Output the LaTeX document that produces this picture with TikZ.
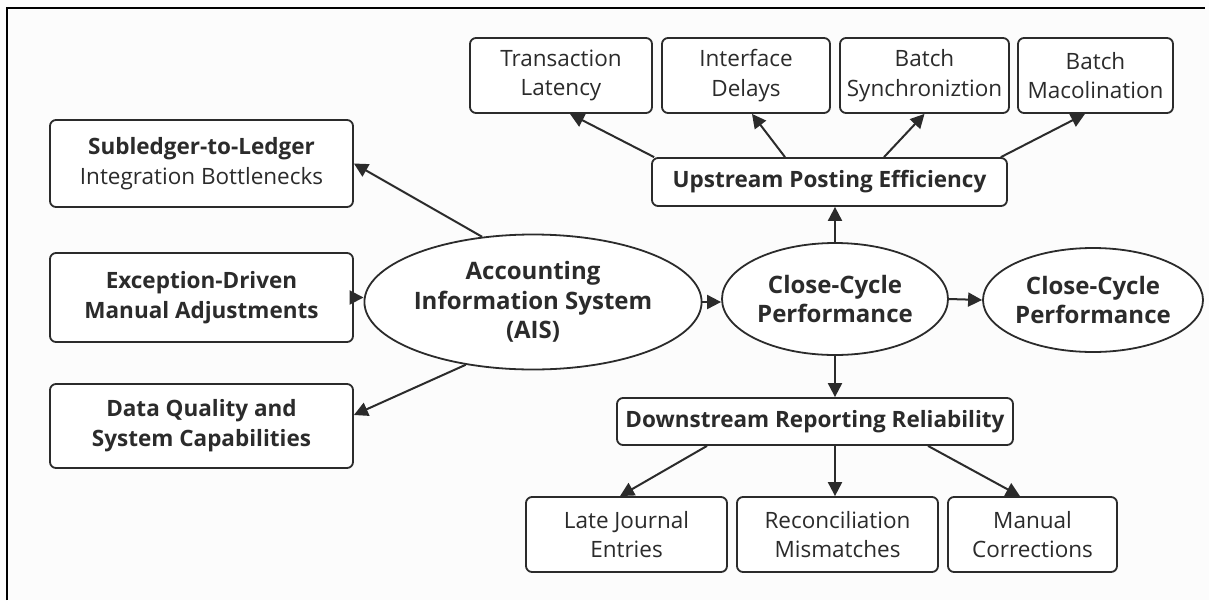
\documentclass[tikz,border=0pt]{standalone}
\usepackage{fontspec}
\setmainfont{Open Sans}
\usetikzlibrary{arrows.meta,shapes.geometric}
\definecolor{ink}{HTML}{2B2B2B}
\definecolor{bg}{HTML}{FCFCFC}
\tikzset{
  box/.style={draw=ink,line width=1.8pt,rounded corners=6pt,fill=white,align=center,
    inner sep=0pt,text=ink,font=\fontsize{22.5}{29.5}\selectfont},
  boldbox/.style={box,font=\fontsize{22.5}{30}\selectfont\bfseries},
  oval/.style={draw=ink,line width=1.8pt,ellipse,fill=white,align=center,inner sep=0pt,
    text=ink,font=\fontsize{24}{29.5}\selectfont\bfseries},
  conn/.style={draw=ink,line width=2pt,-{Triangle[length=14pt,width=14pt]}},
}
\begin{document}
\begin{tikzpicture}[x=1pt,y=-1pt]
\useasboundingbox[fill=bg] (0,0) rectangle (1209,600);
\draw[line width=2.5pt,black] (7,600) -- (7,8) -- (1205,8);
% left boxes
\node[boldbox,minimum width=303pt,minimum height=87pt] (sub) at (201.5,163.5) {Subledger-to-Ledger\\\mdseries Integration Bottlenecks};
\node[boldbox,minimum width=303pt,minimum height=89pt] (exc) at (201.5,297.5) {Exception-Driven\\Manual Adjustments};
\node[boldbox,minimum width=303pt,minimum height=84pt] (dq) at (201.5,426) {Data Quality and\\System Capabilities};
% ellipses
\node[oval,minimum width=297pt,minimum height=135pt] (ais) at (533,302) {Accounting\\Information System\\(AIS)};
\node[oval,minimum width=226pt,minimum height=112pt] (close) at (835,299) {Close-Cycle\\Performance};
\node[oval,minimum width=220pt,minimum height=104pt] (right) at (1093,300) {Close-Cycle\\Performance};
% top boxes
\node[box,minimum width=182pt,minimum height=75pt] (tl) at (561,75.5) {Transaction\\Latency};
\node[box,minimum width=168pt,minimum height=75pt] (id) at (746,75.5) {Interface\\Delays};
\node[box,minimum width=169pt,minimum height=75pt] (bs) at (924.5,75.5) {Batch\\Synchroniztion};
\node[box,minimum width=155pt,minimum height=75pt] (bm) at (1095.5,75.5) {Batch\\Macolination};
\node[boldbox,minimum width=355pt,minimum height=48pt] (up) at (829.5,182) {Upstream Posting Efficiency};
% bottom boxes
\node[boldbox,minimum width=396pt,minimum height=47pt] (down) at (815,421.5) {Downstream Reporting Reliability};
\node[box,minimum width=201pt,minimum height=75pt] (lj) at (626.5,534.5) {Late Journal\\Entries};
\node[box,minimum width=201pt,minimum height=75pt] (rm) at (837.5,534.5) {Reconciliation\\Mismatches};
\node[box,minimum width=169pt,minimum height=75pt] (mc) at (1032.5,534.5) {Manual\\Corrections};
% connectors
\draw[conn] (ais.128) -- (sub.east);
\draw[conn] (exc.east) -- (exc.east -| ais.west);
\draw[conn] (ais.223) -- ([yshift=11pt]dq.east);
\draw[conn] (ais.east) -- (ais.east -| close.west);
\draw[conn] (close.north) -- (close.north |- up.south);
\draw[conn] (close.east) -- (right.west);
\draw[conn] (close.south) -- (close.south |- down.north);
\draw[conn] ([xshift=3pt]up.north west) -- ([xshift=9pt]tl.south);
\draw[conn] ([xshift=-44.5pt]up.north) -- ([xshift=6pt]id.south);
\draw[conn] ([xshift=54.5pt]up.north) -- (bs.south);
\draw[conn] ([xshift=-7pt]up.north east) -- ([xshift=-10.5pt]bm.south);
\draw[conn] ([xshift=-108pt]down.south) -- ([xshift=-6.5pt]lj.north);
\draw[conn] ([xshift=20pt]down.south) -- ([xshift=-2.5pt]rm.north);
\draw[conn] ([xshift=113pt]down.south) -- ([xshift=-12.5pt]mc.north);
\end{tikzpicture}
\end{document}
